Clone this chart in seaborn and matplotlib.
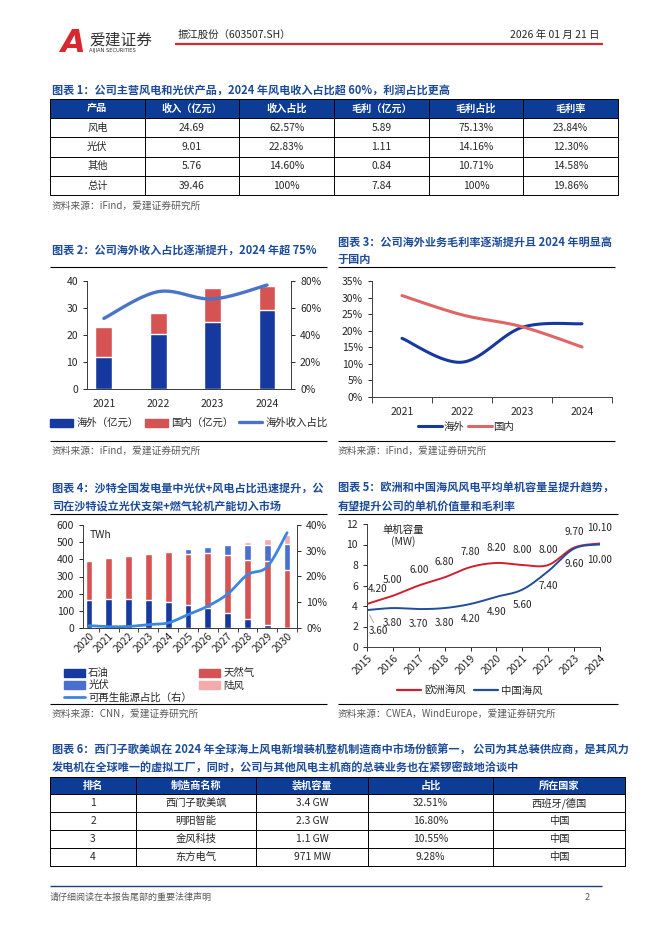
import numpy as np
import matplotlib
matplotlib.use("Agg")
import matplotlib.pyplot as plt
import seaborn as sns
from matplotlib.patches import Rectangle, Patch
from matplotlib.lines import Line2D
from matplotlib.ticker import PercentFormatter

sns.set_theme(style="ticks")
plt.rcParams['font.family'] = ['Noto Sans CJK SC', 'DejaVu Sans']
plt.rcParams['axes.unicode_minus'] = False

W, H = 662, 936

# ---- 数据 ----
# 图表1
t1_header = ["产品", "收入（亿元）", "收入占比", "毛利（亿元）", "毛利占比", "毛利率"]
t1_product = ["风电", "光伏", "其他", "总计"]
t1_revenue = ["24.69", "9.01", "5.76", "39.46"]
t1_rev_share = ["62.57%", "22.83%", "14.60%", "100%"]
t1_gross = ["5.89", "1.11", "0.84", "7.84"]
t1_gross_share = ["75.13%", "14.16%", "10.71%", "100%"]
t1_margin = ["23.84%", "12.30%", "14.58%", "19.86%"]

# 图表2
years2 = ["2021", "2022", "2023", "2024"]
overseas = [12.0, 20.2, 24.7, 29.4]
domestic = [11.1, 7.8, 12.7, 8.7]
overseas_share = [52.3, 72.1, 66.7, 77.0]

# 图表3
years3 = ["2021", "2022", "2023", "2024"]
margin_overseas = [17.7, 10.5, 21.0, 22.1]
margin_domestic = [30.6, 24.8, 21.2, 15.1]

# 图表4
years4 = [str(y) for y in range(2020, 2031)]
oil = [162, 167, 167, 163, 154, 132, 116, 87, 52, 19, 2]
gas = [230, 241, 250, 270, 290, 299, 323, 339, 345, 372, 337]
pv = [0, 0, 0, 3, 5, 28, 35, 56, 89, 91, 151]
wind = [0, 0, 0, 1, 1, 1, 4, 9, 17, 35, 50]
renew_share = [0.9, 0.5, 0.6, 1.3, 2.0, 5.2, 8.5, 13.2, 20.7, 23.8, 37.0]

# 图表5
years5 = [str(y) for y in range(2015, 2025)]
europe = [4.2, 5.0, 6.0, 6.8, 7.8, 8.2, 8.0, 8.0, 9.7, 10.1]
china = [3.6, 3.8, 3.7, 3.8, 4.2, 4.9, 5.6, 7.4, 9.6, 10.0]

# 图表6
t6_header = ["排名", "制造商名称", "装机容量", "占比", "所在国家"]
t6_rank = ["1", "2", "3", "4"]
t6_maker = ["西门子歌美飒", "明阳智能", "金风科技", "东方电气"]
t6_capacity = ["3.4 GW", "2.3 GW", "1.1 GW", "971 MW"]
t6_share = ["32.51%", "16.80%", "10.55%", "9.28%"]
t6_country = ["西班牙/德国", "中国", "中国", "中国"]

# ---- 颜色 ----
TITLE = '#1C4B9A'
HEAD = '#0C3C96'
BLUE = '#15399E'
RED = '#D65353'
LBLUE = '#4A74C9'
MBLUE = '#4A6FD0'
PINK = '#F4AAAA'
SKY = '#3A86E0'
GRAY = '#595959'
TXT = '#262626'
FS = 7.5


def smooth(ys, n=24):
    # 平滑折线（Catmull-Rom），仅用于显示
    ys = np.asarray(ys, float)
    xs = np.arange(len(ys), dtype=float)
    px = np.concatenate([[xs[0]], xs, [xs[-1]]])
    py = np.concatenate([[ys[0]], ys, [ys[-1]]])
    ox, oy = [], []
    t = np.linspace(0, 1, n, endpoint=False)
    for i in range(1, len(px) - 2):
        for arr, out in ((px, ox), (py, oy)):
            p0, p1, p2, p3 = arr[i - 1:i + 3]
            out.extend(0.5 * (2 * p1 + (-p0 + p2) * t + (2 * p0 - 5 * p1 + 4 * p2 - p3) * t ** 2
                              + (-p0 + 3 * p1 - 3 * p2 + p3) * t ** 3))
    ox.append(xs[-1]); oy.append(ys[-1])
    return np.array(ox), np.array(oy)


fig = plt.figure(figsize=(W / 100, H / 100), dpi=100)
page = fig.add_axes([0, 0, 1, 1])
page.set_xlim(0, W); page.set_ylim(H, 0); page.axis('off')


def chart_ax(x0, y0, x1, y1):
    a = fig.add_axes([x0 / W, 1 - y1 / H, (x1 - x0) / W, (y1 - y0) / H])
    a.patch.set_alpha(0)
    return a


def hline(x0, x1, y, color='black', lw=0.8):
    page.plot([x0, x1], [y, y], color=color, lw=lw, solid_capstyle='butt')


def title(x, y, s):
    page.text(x, y, s, color=TITLE, fontsize=8.0, fontweight='bold', va='center')


def source(x, y, s):
    page.text(x, y, s, color=GRAY, fontsize=7, va='center')


def draw_table(edges, y0, head_h, row_h, header, body):
    x0, x1 = edges[0], edges[-1]
    page.add_patch(Rectangle((x0, y0), x1 - x0, head_h, facecolor=HEAD, edgecolor='none'))
    for j, h in enumerate(header):
        page.text((edges[j] + edges[j + 1]) / 2, y0 + head_h / 2, h, color='white',
                  fontsize=7.3, fontweight='bold', ha='center', va='center')
    ys = [y0, y0 + head_h] + [y0 + head_h + row_h * (i + 1) for i in range(len(body))]
    for i, row in enumerate(body):
        yc = y0 + head_h + row_h * (i + 0.5)
        for j, cell in enumerate(row):
            page.text((edges[j] + edges[j + 1]) / 2, yc, cell, color=TXT,
                      fontsize=7.4, ha='center', va='center')
    for y in ys:
        hline(x0, x1, y, lw=0.7)
    for x in edges:
        page.plot([x, x], [y0, ys[-1]], color='black', lw=0.7)


def style_ax(a):
    a.tick_params(labelsize=FS, colors=TXT, width=0.7, length=3)
    for s in a.spines.values():
        s.set_linewidth(0.7)
        s.set_color('#404040')
    a.set_xlabel(''); a.set_ylabel('')


# ---- 页眉 ----
page.text(72, 43, 'A', color='#D7282F', fontsize=23, fontweight='bold', ha='center', va='center',
          family='DejaVu Sans', style='italic')
page.text(89, 40, '爱建证券', color='#333333', fontsize=11.3, ha='left', va='center')
page.text(89, 50.5, 'AIJIAN SECURITIES', color='#333333', fontsize=3.7, ha='left', va='center',
          family='DejaVu Sans')
page.text(178, 35, '振江股份（603507.SH）', color=TXT, fontsize=7.5, va='center')
page.text(600, 35, '2026 年 01 月 21 日', color=TXT, fontsize=7.5, va='center', ha='right')
hline(175, 603, 43.5, color='#D7282F', lw=1.6)

# ---- 图表1 ----
title(52, 90, "图表 1：公司主营风电和光伏产品，2024 年风电收入占比超 60%，利润占比更高")
body1 = list(zip(t1_product, t1_revenue, t1_rev_share, t1_gross, t1_gross_share, t1_margin))
draw_table(np.linspace(50, 618, 7), 99, 19, 19.3, t1_header, body1)
source(52, 206, "资料来源：iFind，爱建证券研究所")

# ---- 图表2 ----
title(52, 250, "图表 2：公司海外收入占比逐渐提升，2024 年超 75%")
hline(50, 327, 267)
ax = chart_ax(87, 281, 291, 389)
total2 = np.add(overseas, domestic)
sns.barplot(x=years2, y=total2, color=RED, width=0.31, saturation=1, errorbar=None, ax=ax)
sns.barplot(x=years2, y=overseas, color=BLUE, width=0.31, saturation=1, errorbar=None, ax=ax)
ax.set_xlim(-0.31, 3.44)
ax.set_ylim(0, 40)
ax.set_yticks(range(0, 41, 10))
style_ax(ax)
ax.tick_params(axis='x', length=0, pad=7)
ax.spines['top'].set_visible(False)
ax2 = ax.twinx()
sx, sy = smooth(overseas_share)
sns.lineplot(x=sx, y=sy, color=LBLUE, lw=2.4, sort=False, ax=ax2)
ax2.set_ylim(0, 80)
ax2.set_yticks(range(0, 81, 20))
ax2.yaxis.set_major_formatter(PercentFormatter(decimals=0))
style_ax(ax2)
ax2.spines['top'].set_visible(False)
h2 = [Patch(color=BLUE), Patch(color=RED), Line2D([], [], color=LBLUE, lw=2.4)]
fig.legend(h2, ["海外（亿元）", "国内（亿元）", "海外收入占比"], ncol=3, loc='center',
           bbox_to_anchor=(189 / W, 1 - 423 / H), frameon=False, fontsize=FS,
           handlelength=2.2, handleheight=0.8, handletextpad=0.3, columnspacing=0.6,
           labelcolor=TXT)
hline(50, 327, 441)
source(52, 451, "资料来源：iFind，爱建证券研究所")

# ---- 图表3 ----
title(338, 242, "图表 3：公司海外业务毛利率逐渐提升且 2024 年明显高")
title(338, 260, "于国内")
hline(338, 615, 267)
ax = chart_ax(372, 281, 612, 397)
sx, sy = smooth(margin_overseas)
sns.lineplot(x=sx, y=sy, color=BLUE, lw=2.2, sort=False, ax=ax)
sx, sy = smooth(margin_domestic)
sns.lineplot(x=sx, y=sy, color='#E06666', lw=2.2, sort=False, ax=ax)
ax.set_xlim(-0.5, 3.5)
ax.set_ylim(0, 35)
ax.set_yticks(range(0, 36, 5))
ax.yaxis.set_major_formatter(PercentFormatter(decimals=0))
ax.set_xticks(range(4))
ax.set_xticklabels(years3)
ax.set_xticks(np.arange(-0.5, 3.6, 1), minor=True)
style_ax(ax)
ax.tick_params(axis='x', which='major', length=0, pad=7)
ax.tick_params(axis='x', which='minor', length=4, width=0.7, color='#404040')
ax.spines['top'].set_visible(False)
ax.spines['right'].set_visible(False)
h3 = [Line2D([], [], color=BLUE, lw=2.2), Line2D([], [], color='#E06666', lw=2.2)]
fig.legend(h3, ["海外", "国内"], ncol=2, loc='center', bbox_to_anchor=(466 / W, 1 - 427 / H),
           frameon=False, fontsize=FS, handlelength=2.3, handletextpad=0.2, columnspacing=0.3,
           labelcolor=TXT)
hline(338, 615, 441)
source(338, 451, "资料来源：iFind，爱建证券研究所")

# ---- 图表4 ----
title(52, 488, "图表 4：沙特全国发电量中光伏+风电占比迅速提升，公")
title(52, 507, "司在沙特设立光伏支架+燃气轮机产能切入市场")
hline(50, 327, 514)
ax = chart_ax(83, 525, 297, 628)
top_gas = np.add(oil, gas)
top_pv = top_gas + np.array(pv)
top_wind = top_pv + np.array(wind)
for vals, col in [(top_wind, PINK), (top_pv, MBLUE), (top_gas, RED), (oil, BLUE)]:
    sns.barplot(x=years4, y=vals, color=col, width=0.34, saturation=1, errorbar=None, ax=ax)
ax.set_xlim(-0.3, 10.5)
ax.set_ylim(0, 600)
ax.set_yticks(range(0, 601, 100))
style_ax(ax)
ax.set_xticks(np.arange(0.5, 10.6, 1), minor=True)
ax.tick_params(axis='x', which='major', length=0, pad=2)
ax.tick_params(axis='x', which='minor', length=3, width=0.7, color='#404040')
for lab in ax.get_xticklabels():
    lab.set_rotation(45); lab.set_ha('right'); lab.set_va('top'); lab.set_rotation_mode('anchor')
ax.spines['top'].set_visible(False)
ax.text(0.03, 0.95, 'TWh', transform=ax.transAxes, fontsize=FS, color=TXT, va='top')
ax2 = ax.twinx()
sx, sy = smooth(renew_share)
sns.lineplot(x=sx, y=sy, color=SKY, lw=2.0, sort=False, ax=ax2)
ax2.set_ylim(0, 40)
ax2.set_yticks(range(0, 41, 10))
ax2.yaxis.set_major_formatter(PercentFormatter(decimals=0))
style_ax(ax2)
ax2.spines['top'].set_visible(False)
h4 = [Patch(color=BLUE), Patch(color=MBLUE), Line2D([], [], color=SKY, lw=2.0),
      Patch(color=RED), Patch(color=PINK)]
fig.legend(h4, ["石油", "光伏", "可再生能源占比（右）", "天然气", "陆风"], ncol=2, loc='upper left',
           bbox_to_anchor=(58 / W, 1 - 662 / H), frameon=False, fontsize=FS,
           handlelength=2.0, handleheight=0.8, handletextpad=0.3, columnspacing=0.7,
           labelspacing=0.18, borderpad=0.1, labelcolor=TXT)
hline(50, 327, 704)
source(52, 714, "资料来源：CNN，爱建证券研究所")

# ---- 图表5 ----
title(338, 488, "图表 5：欧洲和中国海风风电平均单机容量呈提升趋势，")
title(338, 507, "有望提升公司的单机价值量和毛利率")
hline(338, 618, 514)
ax = chart_ax(367, 524, 600, 647)
sx, sy = smooth(europe)
sns.lineplot(x=sx, y=sy, color='#D0202E', lw=1.4, sort=False, ax=ax)
sx, sy = smooth(china)
sns.lineplot(x=sx, y=sy, color='#1F4E9E', lw=1.4, sort=False, ax=ax)
ax.set_xlim(0, 9)
ax.set_ylim(0, 12)
ax.set_yticks(range(0, 13, 2))
ax.set_xticks(range(len(years5)))
ax.set_xticklabels(years5)
style_ax(ax)
ax.tick_params(axis='x', pad=1)
for lab in ax.get_xticklabels():
    lab.set_rotation(45); lab.set_ha('right'); lab.set_va('top'); lab.set_rotation_mode('anchor')
ax.spines['top'].set_visible(False)
ax.spines['right'].set_visible(False)
for i, v in enumerate(europe):
    ax.annotate(f"{v:.2f}", (i, v), xytext=(8 if i == 0 else 0, 11), textcoords='offset points',
                ha='center', va='center', fontsize=7.2, color=TXT, annotation_clip=False)
for i, v in enumerate(china):
    if i == 0:
        ax.annotate(f"{v:.2f}", (i, v), xytext=(8, -15), textcoords='offset points',
                    ha='center', va='center', fontsize=7.2, color=TXT, annotation_clip=False,
                    arrowprops=dict(arrowstyle='-', color='#A0A0A0', lw=0.6, shrinkA=0, shrinkB=4))
    else:
        ax.annotate(f"{v:.2f}", (i, v), xytext=(0, -11), textcoords='offset points',
                    ha='center', va='center', fontsize=7.2, color=TXT, annotation_clip=False)
ax.text(0.155, 0.99, "单机容量\n(MW)", transform=ax.transAxes, fontsize=FS, color=TXT,
        ha='center', va='top', linespacing=1.05)
h5 = [Line2D([], [], color='#D0202E', lw=1.6), Line2D([], [], color='#1F4E9E', lw=1.6)]
fig.legend(h5, ["欧洲海风", "中国海风"], ncol=2, loc='center', bbox_to_anchor=(470 / W, 1 - 691 / H),
           frameon=False, fontsize=FS, handlelength=2.3, handletextpad=0.3, columnspacing=0.8,
           labelcolor=TXT)
hline(338, 618, 704)
source(338, 714, "资料来源：CWEA，WindEurope，爱建证券研究所")

# ---- 图表6 ----
title(52, 750, "图表 6：西门子歌美飒在 2024 年全球海上风电新增装机整机制造商中市场份额第一， 公司为其总装供应商，是其风力")
title(52, 768, "发电机在全球唯一的虚拟工厂，同时，公司与其他风电主机商的总装业务也在紧锣密鼓地洽谈中")
body6 = list(zip(t6_rank, t6_maker, t6_capacity, t6_share, t6_country))
draw_table([50, 136, 256, 368, 493, 625], 777, 17, 18, t6_header, body6)

# ---- 页脚 ----
hline(50, 602, 886, color='#1F3F7A', lw=1.0)
page.text(50, 897, "请仔细阅读在本报告尾部的重要法律声明", color=GRAY, fontsize=6.5, va='center')
page.text(590, 897, "2", color=GRAY, fontsize=6.5, va='center', ha='right')

fig.savefig("out.png", dpi=100)
